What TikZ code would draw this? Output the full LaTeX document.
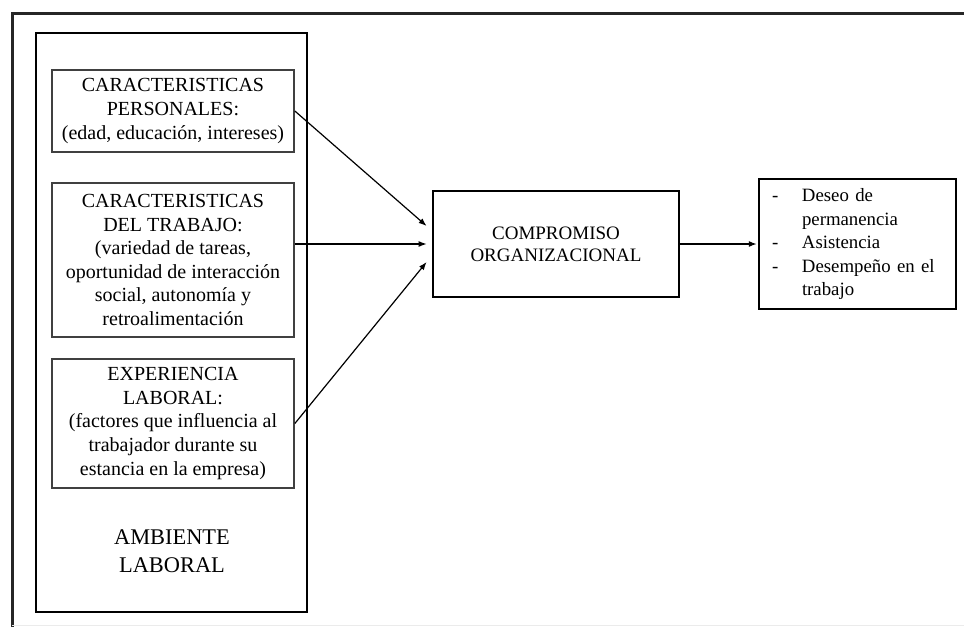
\documentclass[tikz,border=0pt]{standalone}
\usepackage{fontspec}
\setmainfont{Liberation Serif}
\usetikzlibrary{arrows.meta,calc}

\begin{document}
\begin{tikzpicture}[x=1pt,y=-1pt,
  factor/.style={draw=black!75, line width=1.7pt, minimum width=242pt, inner sep=0pt,
                 align=center, font=\fontsize{20}{23.6}\selectfont},
  thickbox/.style={draw=black, line width=2.8pt, inner sep=0pt},
  link/.style={line width=1.2pt, -{Latex[length=8pt,width=6pt]}}
]
\useasboundingbox (0,0) rectangle (964,627);

% page frame: heavy top and left rules, faint bottom rule
\draw[line width=3pt, black!85] (12,627) -- (12,13) -- (964,13);
\draw[line width=0.8pt, black!8] (12,625) -- (964,625);

% work environment container
\node[thickbox, minimum width=271pt, minimum height=579pt] (amb) at (171.5,322.5) {};
\node[font=\fontsize{22.4}{28}\selectfont, align=center] (ambtxt) at (172,551) {AMBIENTE\\LABORAL};

% the three groups of factors
\node[factor, minimum height=82pt] (b1) at (173,111)
  {CARACTERISTICAS\\PERSONALES:\\(edad, educación, intereses)};
\node[factor, minimum height=154pt] (b2) at (173,260)
  {CARACTERISTICAS\\DEL TRABAJO:\\(variedad de tareas,\\oportunidad de interacción\\social, autonomía y\\retroalimentación};
\node[factor, minimum height=129pt] (b3) at (173,423.5)
  {EXPERIENCIA\\LABORAL:\\(factores que influencia al\\trabajador durante su\\estancia en la empresa)};

% organizational commitment
\node[thickbox, minimum width=246pt, minimum height=106pt, align=center,
      font=\fontsize{19}{22}\selectfont] (comp) at (556,244)
  {COMPROMISO\\ORGANIZACIONAL};

% outcomes
\node[draw=black, line width=2.4pt, minimum width=197pt, minimum height=130pt,
      inner xsep=13pt, inner ysep=0pt, text width=171pt, align=left,
      font=\fontsize{18.8}{23.5}\selectfont] (res) at (857.5,244)
  {\raisebox{-3pt}{\begin{tabular}{@{}p{30pt}@{}l@{}}
   - & Deseo de\\
     & permanencia\\
   - & Asistencia\\
   - & Desempeño en el\\
     & trabajo
   \end{tabular}}};

% connectors
\draw[link] (b1.east) -- ($(comp.west)+(-5,-18)$);
\draw[link] ($(b2.east)+(0,-16)$) -- ($(comp.west)+(-5,0)$);
\draw[link] (b3.east) -- ($(comp.west)+(-5,18)$);
\draw[link] (comp.east) -- ($(res.west)+(-1,0)$);
\end{tikzpicture}
\end{document}
